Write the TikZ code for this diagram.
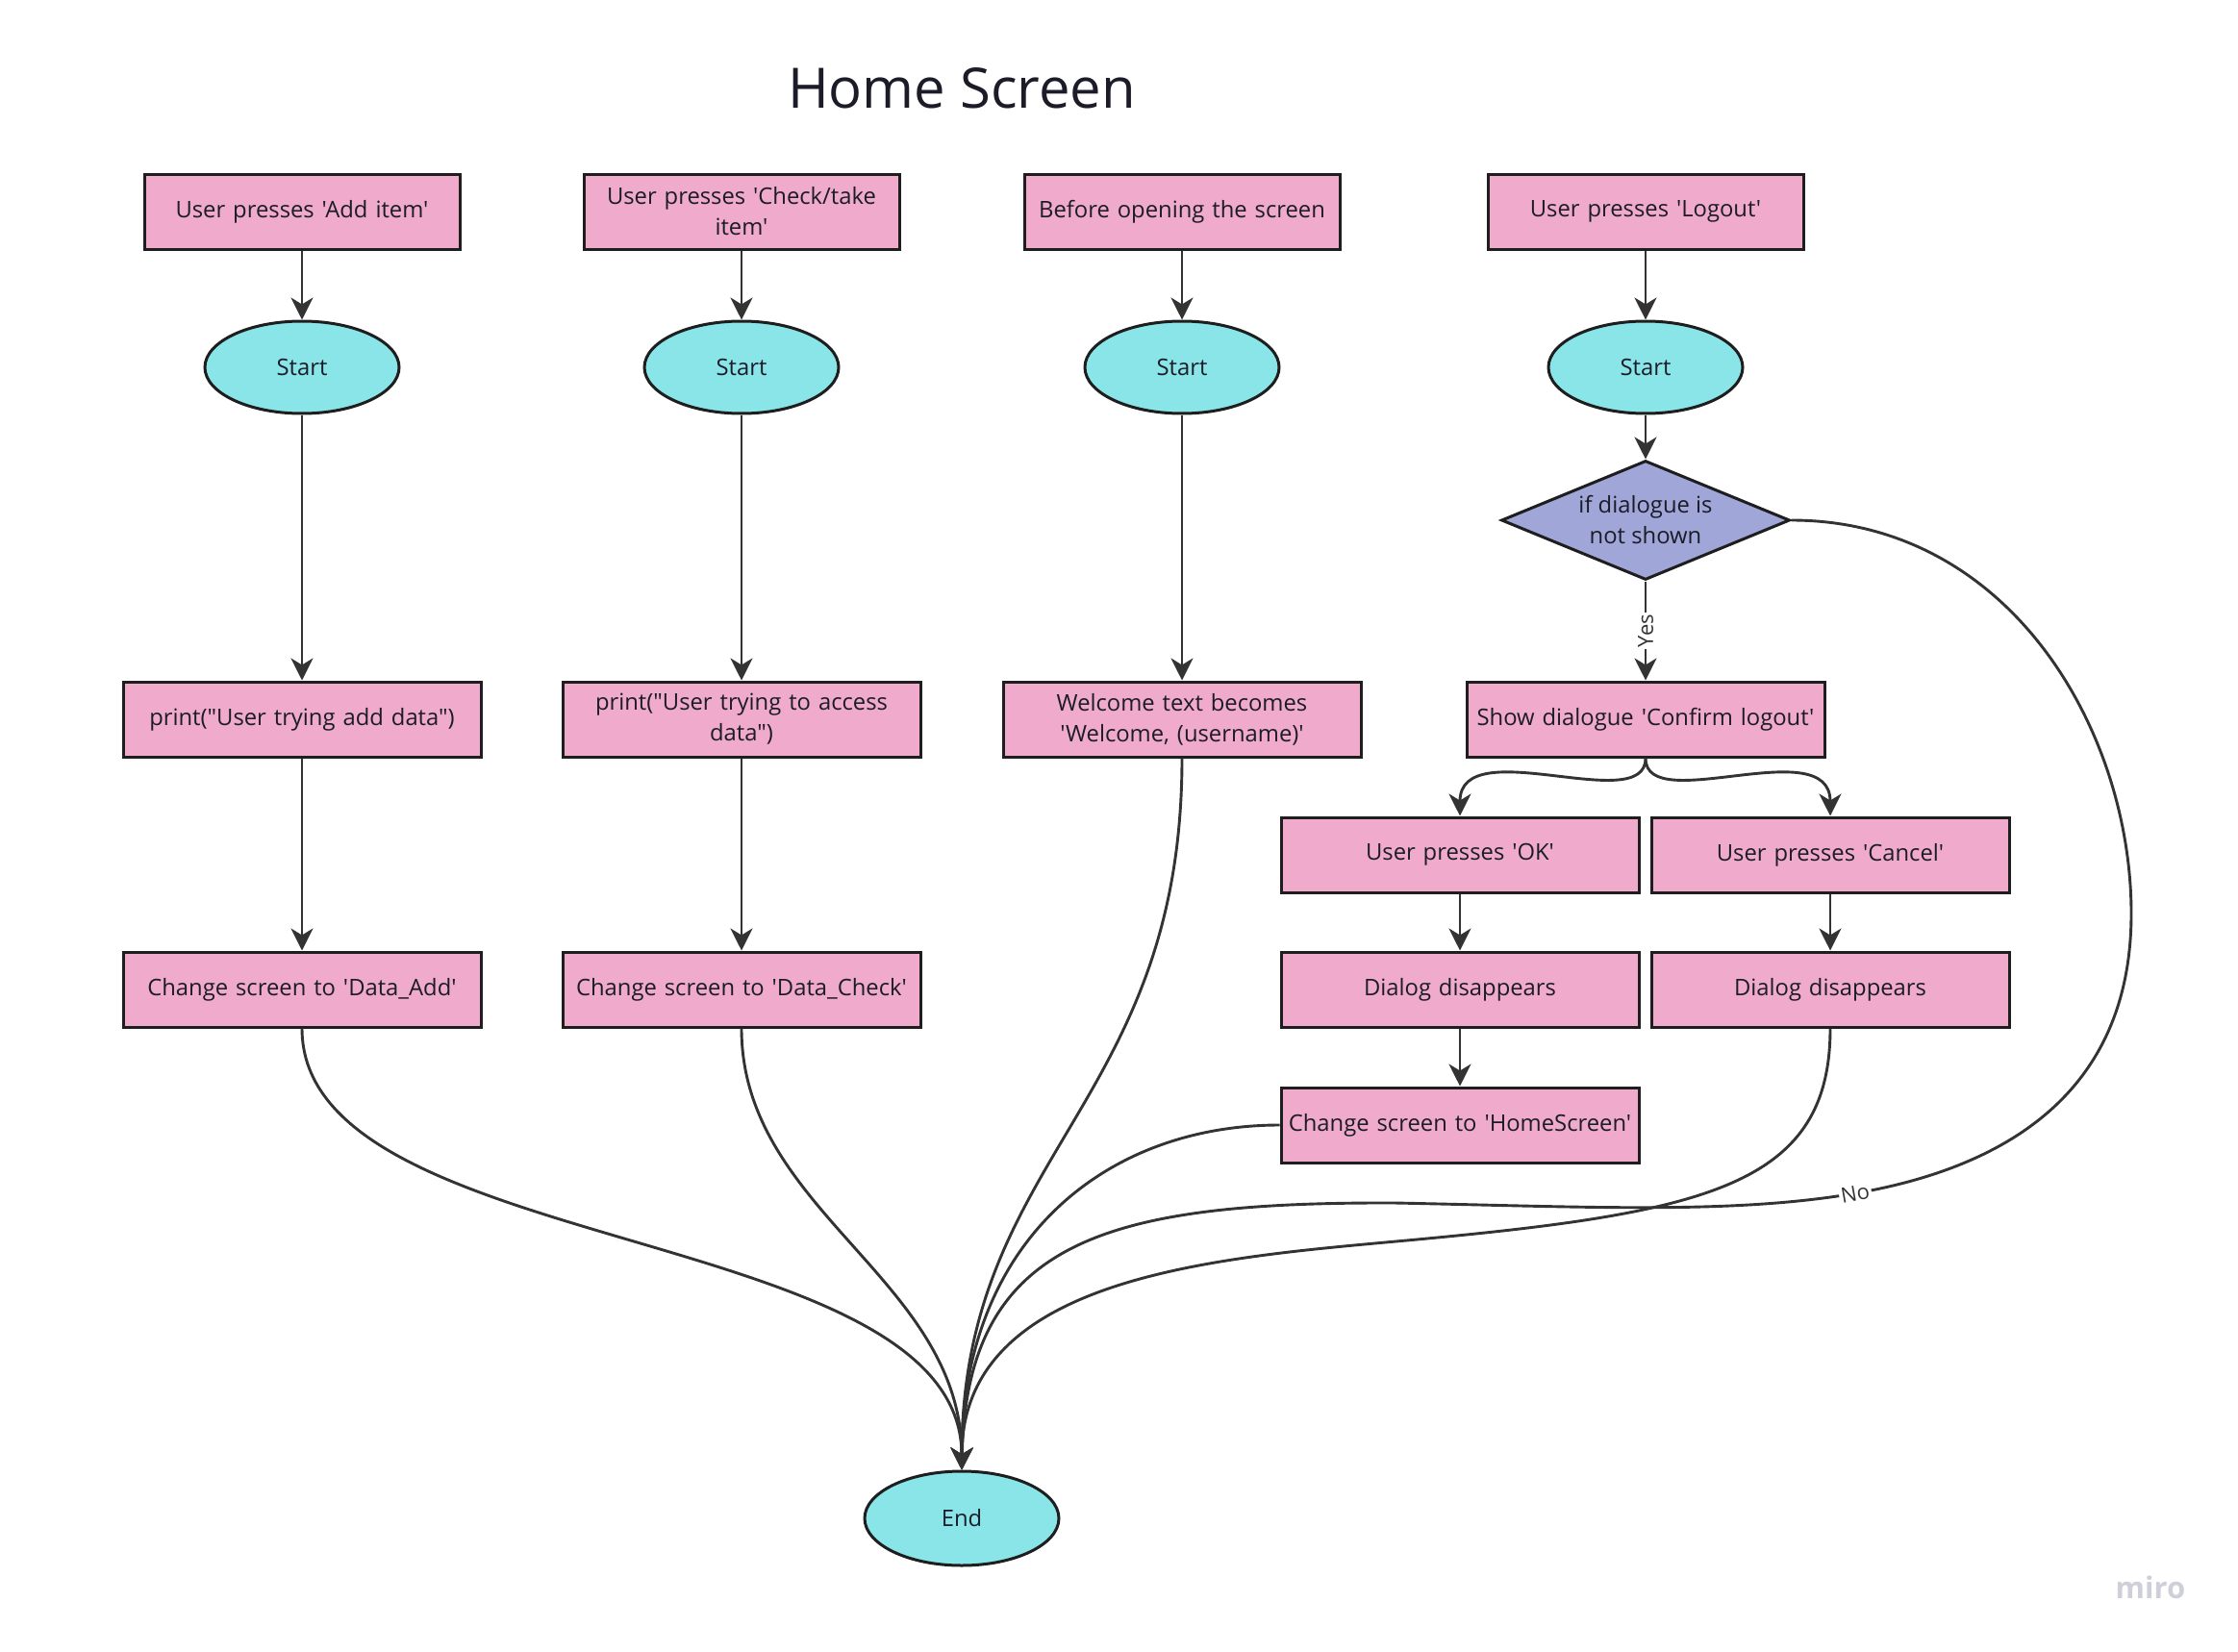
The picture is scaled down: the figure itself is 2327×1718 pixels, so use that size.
\documentclass[tikz,border=0pt]{standalone}
\usepackage{fontspec}
\newfontfamily\osans{Open Sans}
\usetikzlibrary{shapes.geometric,arrows.meta}
\definecolor{boxpink}{HTML}{F0AACB}
\definecolor{startcyan}{HTML}{89E5E8}
\definecolor{decpurple}{HTML}{A0A6D7}
\definecolor{edgegray}{HTML}{333333}
\definecolor{bordergray}{HTML}{1E1E1E}
\definecolor{textdark}{HTML}{1C1C28}
\definecolor{mirogray}{HTML}{CFCFDA}
\begin{document}
\begin{tikzpicture}[x=1pt,y=-1pt,
  every node/.style={font=\osans\fontsize{23.8}{32}\selectfont, text=textdark},
  procbox/.style={draw=bordergray, line width=3pt, fill=boxpink, minimum height=78pt, inner xsep=2pt, inner ysep=0pt, align=center},
  nbox/.style={procbox, minimum width=328pt, text width=324pt},
  wbox/.style={procbox, minimum width=372pt, text width=368pt},
  startell/.style={ellipse, draw=bordergray, line width=3pt, fill=startcyan, minimum width=202pt, minimum height=96pt, inner sep=0pt},
  decision/.style={diamond, draw=bordergray, line width=3pt, fill=decpurple, minimum width=300pt, minimum height=124pt, inner sep=0pt, aspect=2.4, align=center},
  conn/.style={draw=edgegray, line width=2.9pt, -{Stealth[length=23pt,width=23pt,inset=7pt]}},
  edgelabel/.style={fill=white, inner sep=2pt, font=\osans\fontsize{22}{26}\selectfont, text=edgegray}
]
\path[use as bounding box] (0,0) rectangle (2327,1718);

\node (title) at (1000,92) {\fontsize{58}{64}\selectfont Home Screen};

% column 1
\node[nbox] (a1) at (314,220) {User presses 'Add item'};
\node[startell] (s1) at (314,382) {Start};
\node[wbox] (p1) at (314,748) {print("User trying add data")};
\node[wbox] (ch1) at (314,1029) {Change screen to 'Data\_Add'};

% column 2
\node[nbox] (a2) at (771,220) {User presses 'Check/take\\item'};
\node[startell] (s2) at (771,382) {Start};
\node[wbox] (p2) at (771,748) {print("User trying to access\\data")};
\node[wbox] (ch2) at (771,1029) {Change screen to 'Data\_Check'};

% column 3
\node[nbox] (a3) at (1229,220) {Before opening the screen};
\node[startell] (s3) at (1229,382) {Start};
\node[wbox] (w3) at (1229,748) {Welcome text becomes\\'Welcome, (username)'};

% column 4
\node[nbox] (a4) at (1711,220) {User presses 'Logout'};
\node[startell] (s4) at (1711,382) {Start};
\node[decision] (dec) at (1711,541) {if dialogue is\\not shown};
\node[wbox] (show) at (1711,748) {Show dialogue 'Confirm logout'};
\node[wbox] (ok) at (1518,889) {User presses 'OK'};
\node[wbox] (cancel) at (1903,889) {User presses 'Cancel'};
\node[wbox] (dis1) at (1518,1029) {Dialog disappears};
\node[wbox] (dis2) at (1903,1029) {Dialog disappears};
\node[wbox] (home) at (1518,1170) {Change screen to 'HomeScreen'};

% end
\node[startell, minimum height=98pt] (endn) at (1000,1579) {End};

\node[text=mirogray, font=\osans\bfseries\fontsize{31}{34}\selectfont] (miro) at (2236,1651) {miro};

% straight connectors
\draw[conn] (a1) -- (s1);
\draw[conn] (s1) -- (p1);
\draw[conn] (p1) -- (ch1);
\draw[conn] (a2) -- (s2);
\draw[conn] (s2) -- (p2);
\draw[conn] (p2) -- (ch2);
\draw[conn] (a3) -- (s3);
\draw[conn] (s3) -- (w3);
\draw[conn] (a4) -- (s4);
\draw[conn] (s4) -- (dec);
\draw[conn] (dec) -- node[edgelabel, rotate=90] {Yes} (show);
\draw[conn] (ok) -- (dis1);
\draw[conn] (dis1) -- (home);
\draw[conn] (cancel) -- (dis2);

% branch from dialogue
\draw[conn] (show.south) .. controls (1711,850) and (1518,760) .. (ok.north);
\draw[conn] (show.south) .. controls (1711,850) and (1903,760) .. (cancel.north);

% to end
\draw[conn] (ch1.south) .. controls (314,1310) and (1000,1270) .. (endn.north);
\draw[conn] (ch2.south) .. controls (771,1260) and (1000,1330) .. (endn.north);
\draw[conn] (w3.south) .. controls (1229,1150) and (1000,1200) .. (endn.north);
\draw[conn] (home.west) .. controls (1150,1170) and (1000,1290) .. (endn.north);
\draw[conn] (dis2.south) .. controls (1903,1230) and (1780,1260) .. (1484,1288)
   .. controls (1284,1307) and (1000,1320) .. (endn.north);
\draw[conn] (dec.east) .. controls (2090,541) and (2216,760) .. (2216,950)
   .. controls (2216,1140) and (2080,1215) .. (1929,1241)
   .. controls (1800,1263) and (1650,1255) .. (1450,1251)
   .. controls (1150,1250) and (1005,1290) .. (endn.north);
\node[edgelabel, rotate=10] (nolab) at (1929,1241) {No};
\end{tikzpicture}
\end{document}
